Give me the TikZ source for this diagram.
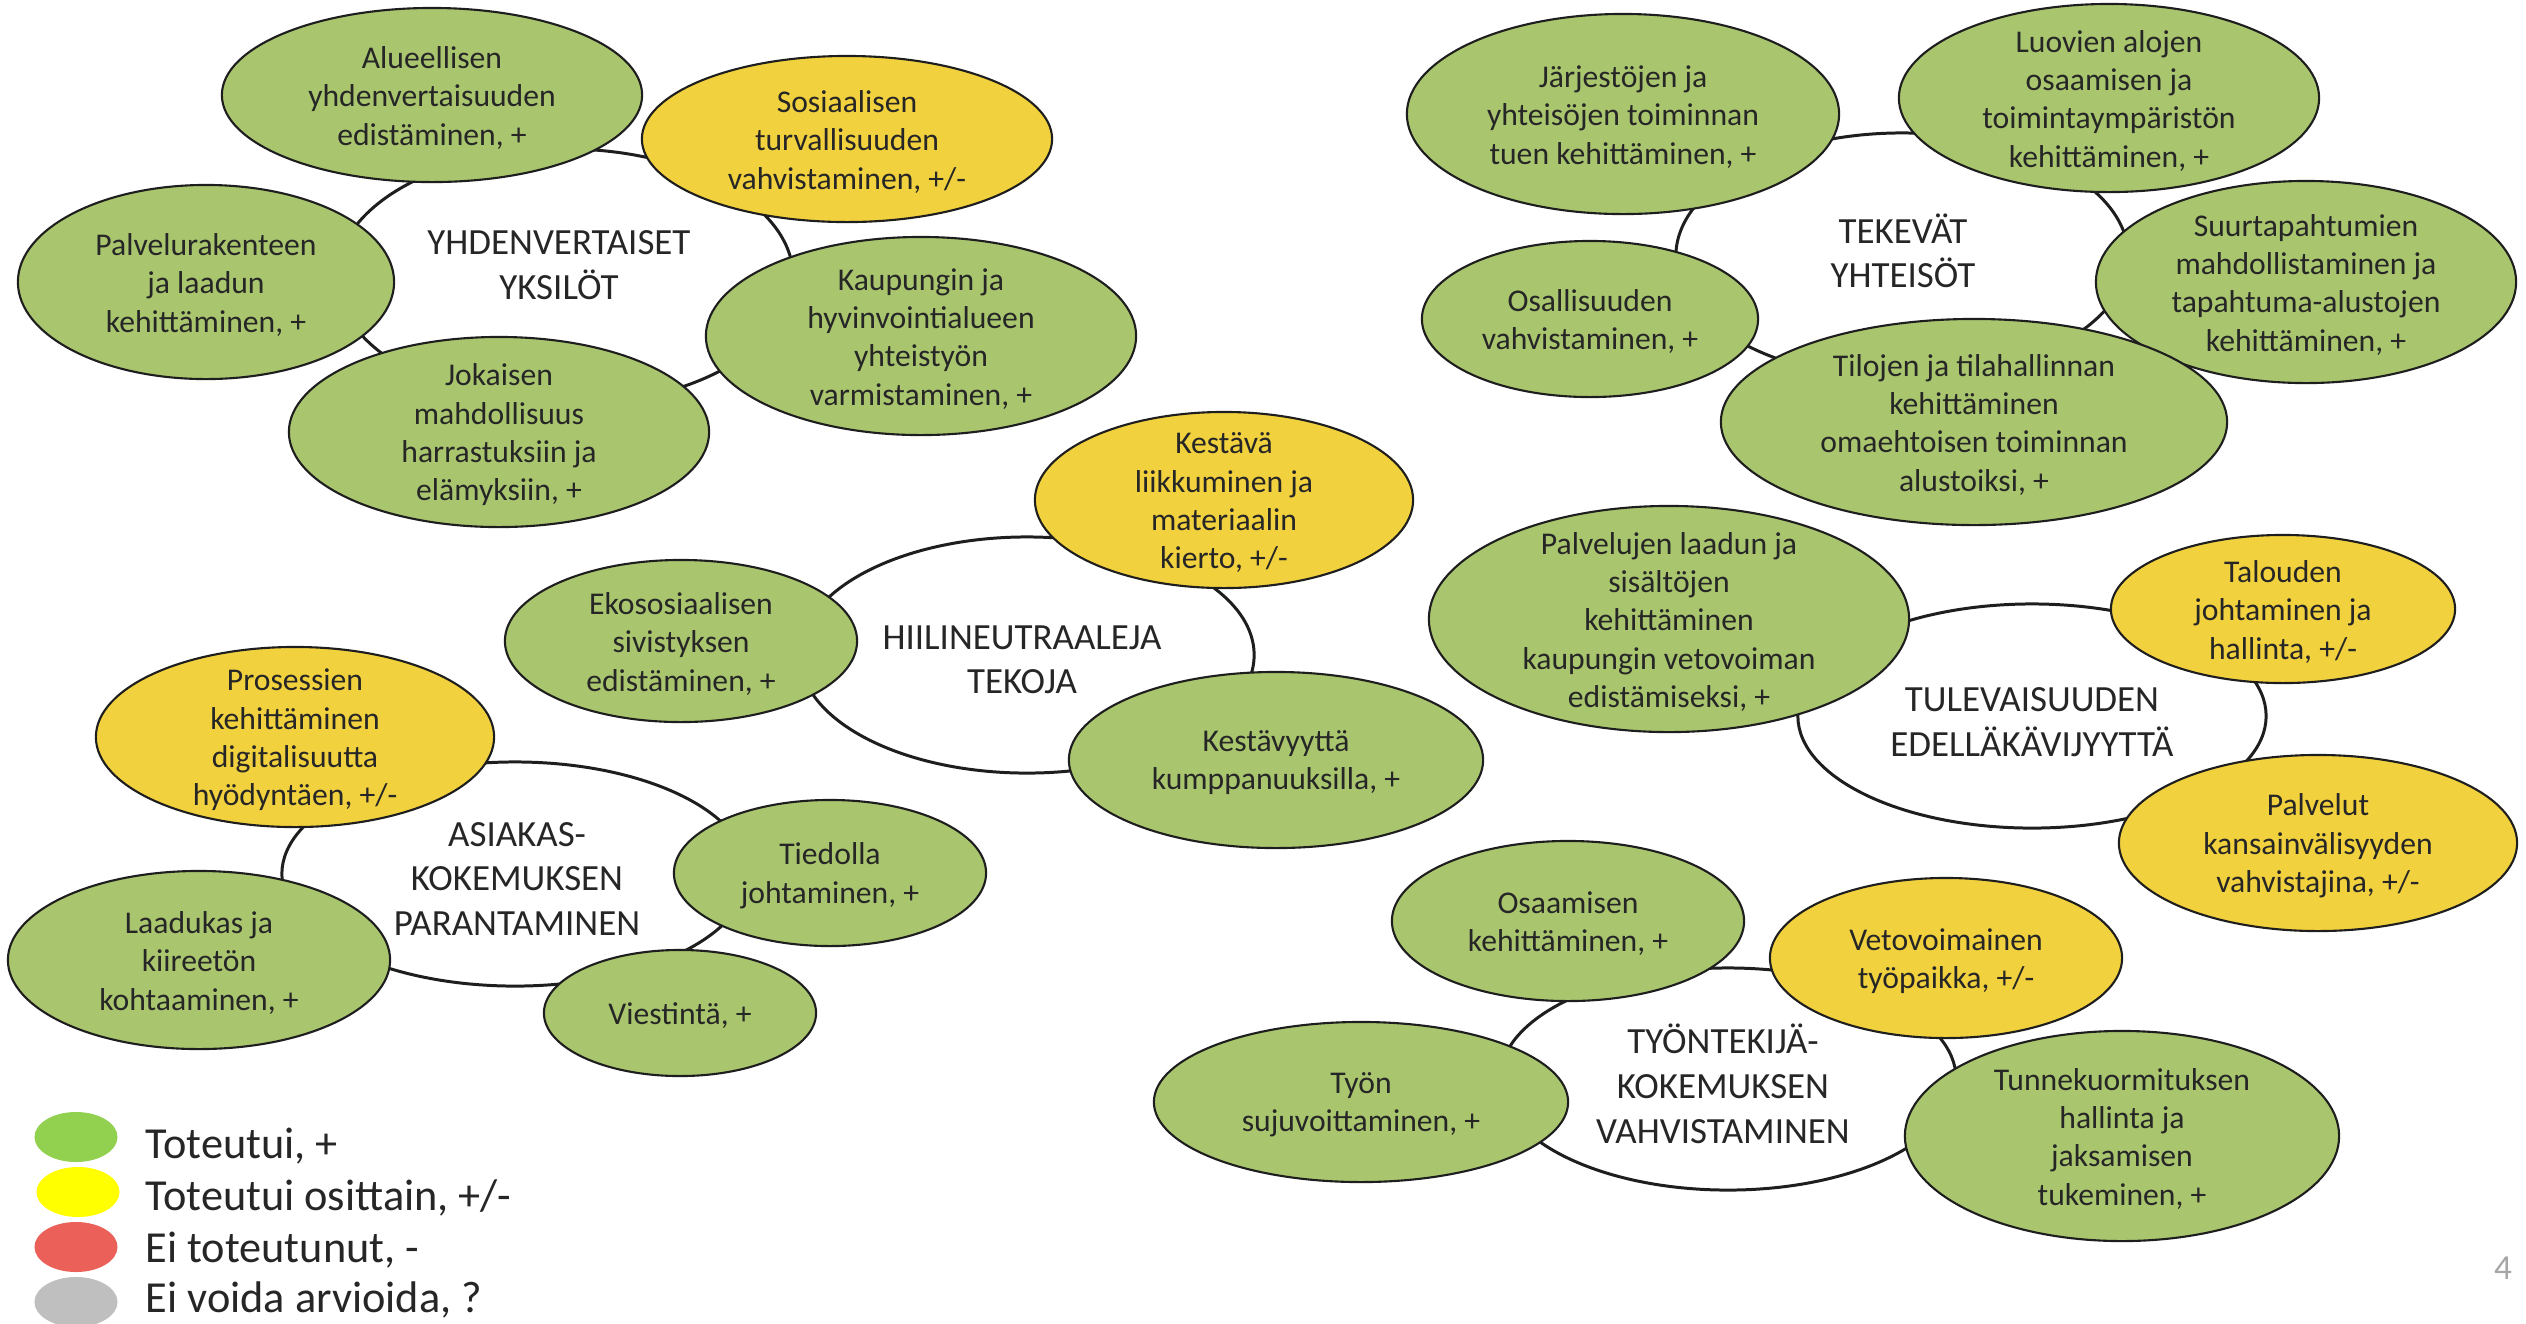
\documentclass[tikz,border=0pt]{standalone}
\usepackage{fontspec}
\setmainfont{Carlito}
\usetikzlibrary{shapes.geometric}
\definecolor{itemgreen}{HTML}{A9C66F}
\definecolor{itemyellow}{HTML}{F2D13E}
\definecolor{outl}{HTML}{1E1E1E}
\definecolor{txtc}{HTML}{262626}
\definecolor{leggreen}{HTML}{92D050}
\definecolor{legyellow}{HTML}{FFFF00}
\definecolor{legred}{HTML}{EB6059}
\definecolor{leggrey}{HTML}{BFBFBF}
\definecolor{pagegrey}{HTML}{A6A6A6}
\newcommand\bubble[7]{%
  \node[#6, minimum width=#4cm, minimum height=#5cm] (#1) at (#2,#3) {};
  \node[itemtext] (#1t) at (#1.center) {#7};}
\newcommand\hubble[8]{%
  \node[hub, minimum width=#4cm, minimum height=#5cm] (#1) at (#2,#3) {};
  \node[hubtext] (#1t) at (#6,#7) {#8};}
\begin{document}
\begin{tikzpicture}[x=0.01cm,y=-0.01cm,
  hub/.style={ellipse, draw=outl, line width=0.85pt, fill=white, inner sep=0pt},
  green/.style={ellipse, draw=outl, line width=0.6pt, fill=itemgreen, inner sep=0pt},
  yellow/.style={ellipse, draw=outl, line width=0.6pt, fill=itemyellow, inner sep=0pt},
  itemtext/.style={align=center, text=txtc, inner sep=0pt, yshift=-0.8pt, font=\fontsize{9}{10.9}\selectfont},
  hubtext/.style={align=center, text=txtc, inner sep=0pt, yshift=-0.8pt, font=\fontsize{10.5}{12.7}\selectfont},
  legdot/.style={ellipse, inner sep=0pt, minimum width=0.83cm, minimum height=0.5cm},
  legtext/.style={anchor=base west, text=txtc, inner sep=0pt, font=\fontsize{12.6}{14}\selectfont}]
\useasboundingbox (0,0) rectangle (2526,1323);

% hubs
\hubble{yhd}{565}{277}{4.56}{2.56}{559}{262}{YHDENVERTAISET\\YKSILÖT}
\hubble{tek}{1902}{256}{4.52}{2.46}{1903}{248}{TEKEVÄT\\YHTEISÖT}
\hubble{hii}{1027}{655}{4.54}{2.36}{1022}{657}{HIILINEUTRAALEJA\\TEKOJA}
\hubble{asi}{515}{874}{4.66}{2.24}{517}{876}{ASIAKAS-\\KOKEMUKSEN\\PARANTAMINEN}
\hubble{tul}{2032}{716}{4.68}{2.24}{2032}{719}{TULEVAISUUDEN\\EDELLÄKÄVIJYYTTÄ}
\hubble{tyo}{1728}{1079}{4.56}{2.22}{1723}{1081}{TYÖNTEKIJÄ-\\KOKEMUKSEN\\VAHVISTAMINEN}

% YHDENVERTAISET YKSILÖT
\bubble{alue}{432}{95}{4.20}{1.74}{green}{Alueellisen\\yhdenvertaisuuden\\edistäminen, +}
\bubble{sosi}{847}{139}{4.10}{1.66}{yellow}{Sosiaalisen\\turvallisuuden\\vahvistaminen, +/-}
\bubble{palv}{206}{282}{3.76}{1.94}{green}{Palvelurakenteen\\ja laadun\\kehittäminen, +}
\bubble{kaup}{921}{336}{4.30}{1.98}{green}{Kaupungin ja\\hyvinvointialueen\\yhteistyön\\varmistaminen, +}
\bubble{joka}{499}{432}{4.20}{1.90}{green}{Jokaisen\\mahdollisuus\\harrastuksiin ja\\elämyksiin, +}

% TEKEVÄT YHTEISÖT
\bubble{jarj}{1623}{114}{4.32}{2.00}{green}{Järjestöjen ja\\yhteisöjen toiminnan\\tuen kehittäminen, +}
\bubble{luov}{2109}{98}{4.20}{1.88}{green}{Luovien alojen\\osaamisen ja\\toimintaympäristön\\kehittäminen, +}
\bubble{suur}{2306}{282}{4.20}{2.02}{green}{Suurtapahtumien\\mahdollistaminen ja\\tapahtuma-alustojen\\kehittäminen, +}
\bubble{osal}{1590}{319}{3.36}{1.56}{green}{Osallisuuden\\vahvistaminen, +}
\bubble{tilo}{1974}{422}{5.06}{2.06}{green}{Tilojen ja tilahallinnan\\kehittäminen\\omaehtoisen toiminnan\\alustoiksi, +}

% HIILINEUTRAALEJA TEKOJA
\bubble{kest}{1224}{500}{3.78}{1.76}{yellow}{Kestävä\\liikkuminen ja\\materiaalin\\kierto, +/-}
\bubble{ekos}{681}{641}{3.52}{1.62}{green}{Ekososiaalisen\\sivistyksen\\edistäminen, +}
\bubble{kvyy}{1276}{760}{4.14}{1.76}{green}{Kestävyyttä\\kumppanuuksilla, +}

% ASIAKASKOKEMUS
\bubble{pros}{295}{737}{3.98}{1.80}{yellow}{Prosessien\\kehittäminen\\digitalisuutta\\hyödyntäen, +/-}
\bubble{tied}{830}{873}{3.12}{1.46}{green}{Tiedolla\\johtaminen, +}
\bubble{laad}{199}{960}{3.82}{1.78}{green}{Laadukas ja\\kiireetön\\kohtaaminen, +}
\bubble{vies}{680}{1013}{2.72}{1.26}{green}{Viestintä, +}

% TULEVAISUUDEN EDELLÄKÄVIJYYTTÄ
\bubble{pvlj}{1669}{619}{4.80}{2.26}{green}{Palvelujen laadun ja\\sisältöjen\\kehittäminen\\kaupungin vetovoiman\\edistämiseksi, +}
\bubble{talo}{2283}{609}{3.44}{1.48}{yellow}{Talouden\\johtaminen ja\\hallinta, +/-}
\bubble{kvs}{2318}{843}{3.98}{1.76}{yellow}{Palvelut\\kansainvälisyyden\\vahvistajina, +/-}

% TYÖNTEKIJÄKOKEMUS
\bubble{osaa}{1568}{921}{3.52}{1.60}{green}{Osaamisen\\kehittäminen, +}
\bubble{veto}{1946}{958}{3.52}{1.60}{yellow}{Vetovoimainen\\työpaikka, +/-}
\bubble{tyon}{1361}{1102}{4.14}{1.60}{green}{Työn\\sujuvoittaminen, +}
\bubble{tunn}{2122}{1136}{4.34}{2.10}{green}{Tunnekuormituksen\\hallinta ja\\jaksamisen\\tukeminen, +}

% legend
\node[legdot, fill=leggreen] (lg1) at (76,1137) {};
\node[legdot, fill=legyellow] (lg2) at (78,1192) {};
\node[legdot, fill=legred] (lg3) at (76,1247) {};
\node[legdot, fill=leggrey] (lg4) at (76,1302) {};
\node[legtext] (lt1) at (145,1158) {Toteutui, +};
\node[legtext] (lt2) at (145,1210) {Toteutui osittain, +/-};
\node[legtext] (lt3) at (145,1262) {Ei toteutunut, -};
\node[legtext] (lt4) at (145,1312) {Ei voida arvioida, ?};

% page number
\node[text=pagegrey, inner sep=0pt, font=\fontsize{10}{12}\selectfont] (pg) at (2503,1268) {4};
\end{tikzpicture}
\end{document}
